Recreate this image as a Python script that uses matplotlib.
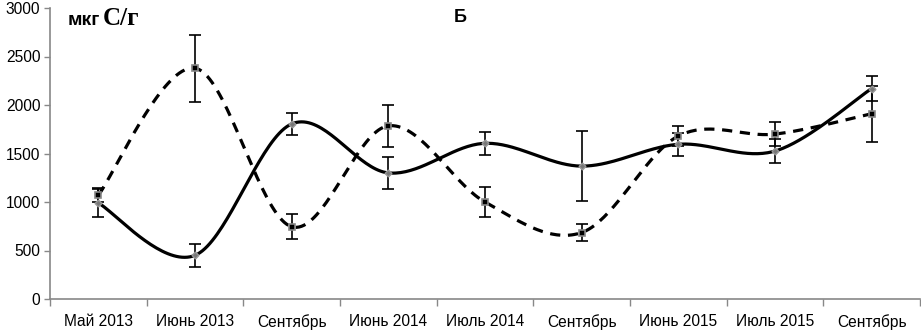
import numpy as np
import matplotlib
matplotlib.use("Agg")
import matplotlib.pyplot as plt

plt.rcParams['font.family'] = ['Liberation Sans', 'DejaVu Sans']

# Data
months = ['Май 2013', 'Июнь 2013', 'Сентябрь', 'Июнь 2014', 'Июль 2014',
          'Сентябрь', 'Июнь 2015', 'Июль 2015', 'Сентябрь']
solid_vals = [990, 450, 1805, 1300, 1605, 1370, 1595, 1525, 2170]
solid_err = [145, 120, 115, 165, 120, 360, 120, 120, 130]
dashed_vals = [1070, 2380, 745, 1785, 1000, 685, 1680, 1700, 1910]
dashed_err = [70, 345, 130, 215, 155, 90, 105, 120, 290]


def smooth(y, n=40):
    # Excel-like smoothed line (Catmull-Rom as cubic Bezier)
    y = np.asarray(y, float)
    x = np.arange(len(y), dtype=float)
    p = np.column_stack([x, y])
    pts = [p[0]] + list(p) + [p[-1]]
    out = []
    t = np.linspace(0, 1, n)[:, None]
    for i in range(1, len(pts) - 2):
        p0, p1, p2, p3 = pts[i - 1], pts[i], pts[i + 1], pts[i + 2]
        c1 = p1 + (p2 - p0) / 6
        c2 = p2 - (p3 - p1) / 6
        seg = ((1 - t) ** 3) * p1 + 3 * ((1 - t) ** 2) * t * c1 \
            + 3 * (1 - t) * t ** 2 * c2 + t ** 3 * p2
        out.append(seg)
    s = np.vstack(out)
    return s[:, 0], s[:, 1]


fig = plt.figure(figsize=(9.21, 3.33), dpi=100)
ax = fig.add_axes([50 / 921, 1 - 299 / 333, 870 / 921, 291 / 333])

x = np.arange(len(months))

sx, sy = smooth(solid_vals)
ax.plot(sx, sy, color='black', lw=2.3, zorder=2)
dx, dy = smooth(dashed_vals)
ax.plot(dx, dy, color='black', lw=2.3, dashes=(3.2, 2.4), zorder=2)

ax.errorbar(x, solid_vals, yerr=solid_err, fmt='none', ecolor='black',
            elinewidth=1.2, capsize=4.5, capthick=1.2, zorder=3)
ax.errorbar(x, dashed_vals, yerr=dashed_err, fmt='none', ecolor='black',
            elinewidth=1.2, capsize=4.5, capthick=1.2, zorder=3)

ax.plot(x, solid_vals, linestyle='none', marker='D', markersize=3.5,
        markerfacecolor='#777777', markeredgecolor='#999999', zorder=4)
ax.plot(x, dashed_vals, linestyle='none', marker='s', markersize=5,
        markerfacecolor='black', markeredgecolor='#888888',
        markeredgewidth=1.2, zorder=4)

ax.set_xlim(-0.5, len(months) - 0.5)
ax.set_ylim(0, 3000)
ax.set_yticks(np.arange(0, 3001, 500))
ax.set_xticks(x)
ax.set_xticklabels(months, fontsize=11.2)
ax.set_xticks(np.arange(-0.5, len(months), 1), minor=True)
ax.tick_params(axis='x', which='major', length=0, pad=11)
ax.tick_params(axis='x', which='minor', length=5, color='#888888', width=1)
ax.tick_params(axis='y', length=4, color='#888888', width=1, labelsize=11.2, pad=3)

for side in ['top', 'right']:
    ax.spines[side].set_visible(False)
for side in ['left', 'bottom']:
    ax.spines[side].set_color('#888888')
    ax.spines[side].set_linewidth(1.2)

fig.text(68 / 921, 1 - 25 / 333, 'мкг', fontsize=14, fontweight='bold',
         va='baseline', ha='left')
fig.text(103 / 921, 1 - 25 / 333, 'C/г', fontsize=18, fontweight='bold',
         family=['Liberation Serif', 'DejaVu Serif'], va='baseline', ha='left')
fig.text(460 / 921, 1 - 22 / 333, 'Б', fontsize=13, fontweight='bold',
         va='baseline', ha='center')

fig.savefig('out.png', dpi=100)
